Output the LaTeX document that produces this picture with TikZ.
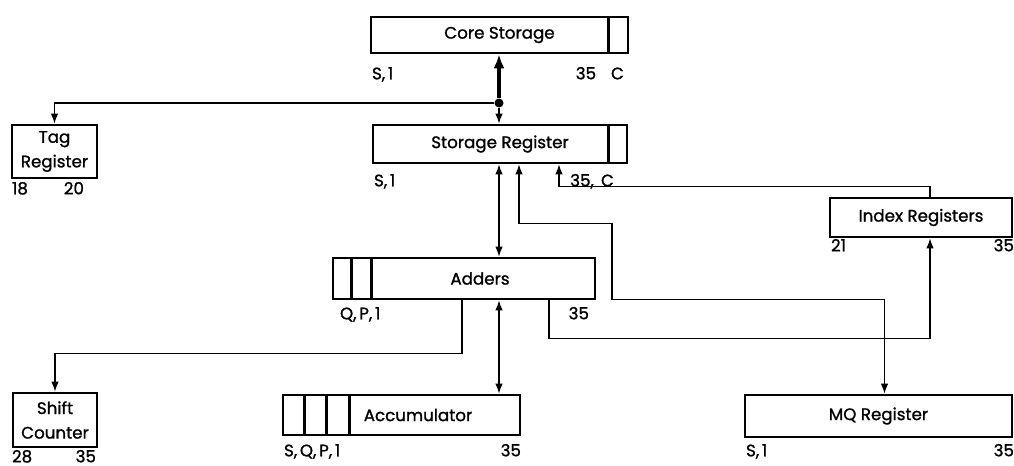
\documentclass[tikz,border=0pt]{standalone}
\usepackage{fontspec}
\setmainfont{Poppins}[FakeBold=1.2]
\usetikzlibrary{arrows.meta, positioning, calc}

\begin{document}
\begin{tikzpicture}[
    x=0.02cm, y=-0.02cm,
    font=\fontsize{9.5}{14}\selectfont,
    regbox/.style={rectangle, draw, line width=1.5pt, inner sep=0pt},
    cellline/.style={line width=1.5pt},
    bitlbl/.style={inner sep=0pt, font=\fontsize{9.5}{11}\selectfont},
    conn/.style={-{Latex[length=2mm, width=1.5mm]}, line width=0.8pt},
    dblconn/.style={{Latex[length=2mm, width=1.5mm]}-{Latex[length=2mm, width=1.5mm]}, line width=0.8pt},
    bigconn/.style={-{Latex[length=2.8mm, width=2.2mm]}, line width=1.8pt},
    jdot/.style={circle, fill, inner sep=0pt, minimum size=0.18cm},
]
\useasboundingbox (0,0) rectangle (1014,466);

% Registers
\node[regbox, minimum width=5.14cm, minimum height=0.72cm] (core) at (499.5,35) {Core Storage\hspace{0.68cm}};
\node[regbox, minimum width=5.08cm, minimum height=0.76cm] (sreg) at (500,144) {Storage Register};
\node[regbox, minimum width=1.70cm, minimum height=1.06cm, align=center] (tag) at (54.5,151.5) {Tag\\Register};
\node[regbox, minimum width=3.64cm, minimum height=0.78cm] (idx) at (921,217.5) {Index Registers};
\node[regbox, minimum width=5.24cm, minimum height=0.82cm] (adders) at (464,278.5) {\hspace{0.64cm}Adders};
\node[regbox, minimum width=1.68cm, minimum height=1.08cm, align=center] (shift) at (55,420) {Shift\\Counter};
\node[regbox, minimum width=4.74cm, minimum height=0.80cm] (acc) at (401.5,415) {\hspace{0.66cm}Accumulator};
\node[regbox, minimum width=5.34cm, minimum height=0.84cm] (mq) at (878.5,416) {MQ Register};

% Cells
\draw[cellline] ($(core.north east)+(-21,0)$) -- ($(core.south east)+(-21,0)$);
\draw[cellline] ($(sreg.north east)+(-20,0)$) -- ($(sreg.south east)+(-20,0)$);
\foreach \dx in {20,40} {
    \draw[cellline] ($(adders.north west)+(\dx,0)$) -- ($(adders.south west)+(\dx,0)$);
}
\foreach \dx in {23,45,68} {
    \draw[cellline] ($(acc.north west)+(\dx,0)$) -- ($(acc.south west)+(\dx,0)$);
}

% Bit positions
\node[bitlbl, anchor=base west] (coreS) at ($(core.south west)+(2,25)$) {S,\,1};
\node[bitlbl, anchor=base east] (coreC) at ($(core.south east)+(-5,25)$) {35\hspace{0.3cm}C};
\node[bitlbl, anchor=base west] (sregS) at ($(sreg.south west)+(2,22)$) {S,\,1};
\node[bitlbl, anchor=base east] (sregC) at ($(sreg.south east)+(-14,22)$) {35,\, C};
\node[bitlbl, anchor=base west] (tagL) at ($(tag.south west)+(1,15)$) {18};
\node[bitlbl, anchor=base east] (tagR) at ($(tag.south east)+(-14,15)$) {20};
\node[bitlbl, anchor=base west] (idxL) at ($(idx.south west)+(2,13)$) {21};
\node[bitlbl, anchor=base east] (idxR) at ($(idx.south east)+(1,13)$) {35};
\node[bitlbl, anchor=base west] (addL) at ($(adders.south west)+(8,19)$) {Q,\,P,\,1};
\node[bitlbl, anchor=base east] (addR) at ($(adders.south east)+(-7,19)$) {35};
\node[bitlbl, anchor=base west] (shiftL) at ($(shift.south west)+(0,14)$) {28};
\node[bitlbl, anchor=base east] (shiftR) at ($(shift.south east)+(-2,14)$) {35};
\node[bitlbl, anchor=base west] (accL) at ($(acc.south west)+(2,20)$) {S,\,Q,\,P,\,1};
\node[bitlbl, anchor=base east] (accR) at ($(acc.south east)+(0,20)$) {35};
\node[bitlbl, anchor=base west] (mqL) at ($(mq.south west)+(2,18)$) {S,\,1};
\node[bitlbl, anchor=base east] (mqR) at ($(mq.south east)+(1,18)$) {35};

% Storage bus
\node[jdot] (jct) at (499,103) {};
\draw[bigconn] (jct) -- (jct |- core.south);
\draw[conn] (jct) -- (jct |- sreg.north);
\draw[conn] (jct) -| (tag.north);

% Data paths
\draw[dblconn] (jct |- sreg.south) -- (jct |- adders.north);
\draw[dblconn] (jct |- adders.south) -- (jct |- acc.north);
\draw[dblconn] ($(sreg.south)+(19,0)$) -- ++(0,59) -- ++(93,0) -- ++(0,76) -| ($(mq.north)+(6,0)$);
\draw[conn] ($(idx.north)+(9,0)$) -- ++(0,-10) -| ($(sreg.south)+(59,0)$);
\draw[conn] ($(adders.south)+(85,0)$) -- ++(0,38) -| ($(idx.south)+(9,0)$);
\draw[conn] ($(adders.south)+(-2,0)$) -- ++(0,53) -| (shift.north);

\end{tikzpicture}
\end{document}
